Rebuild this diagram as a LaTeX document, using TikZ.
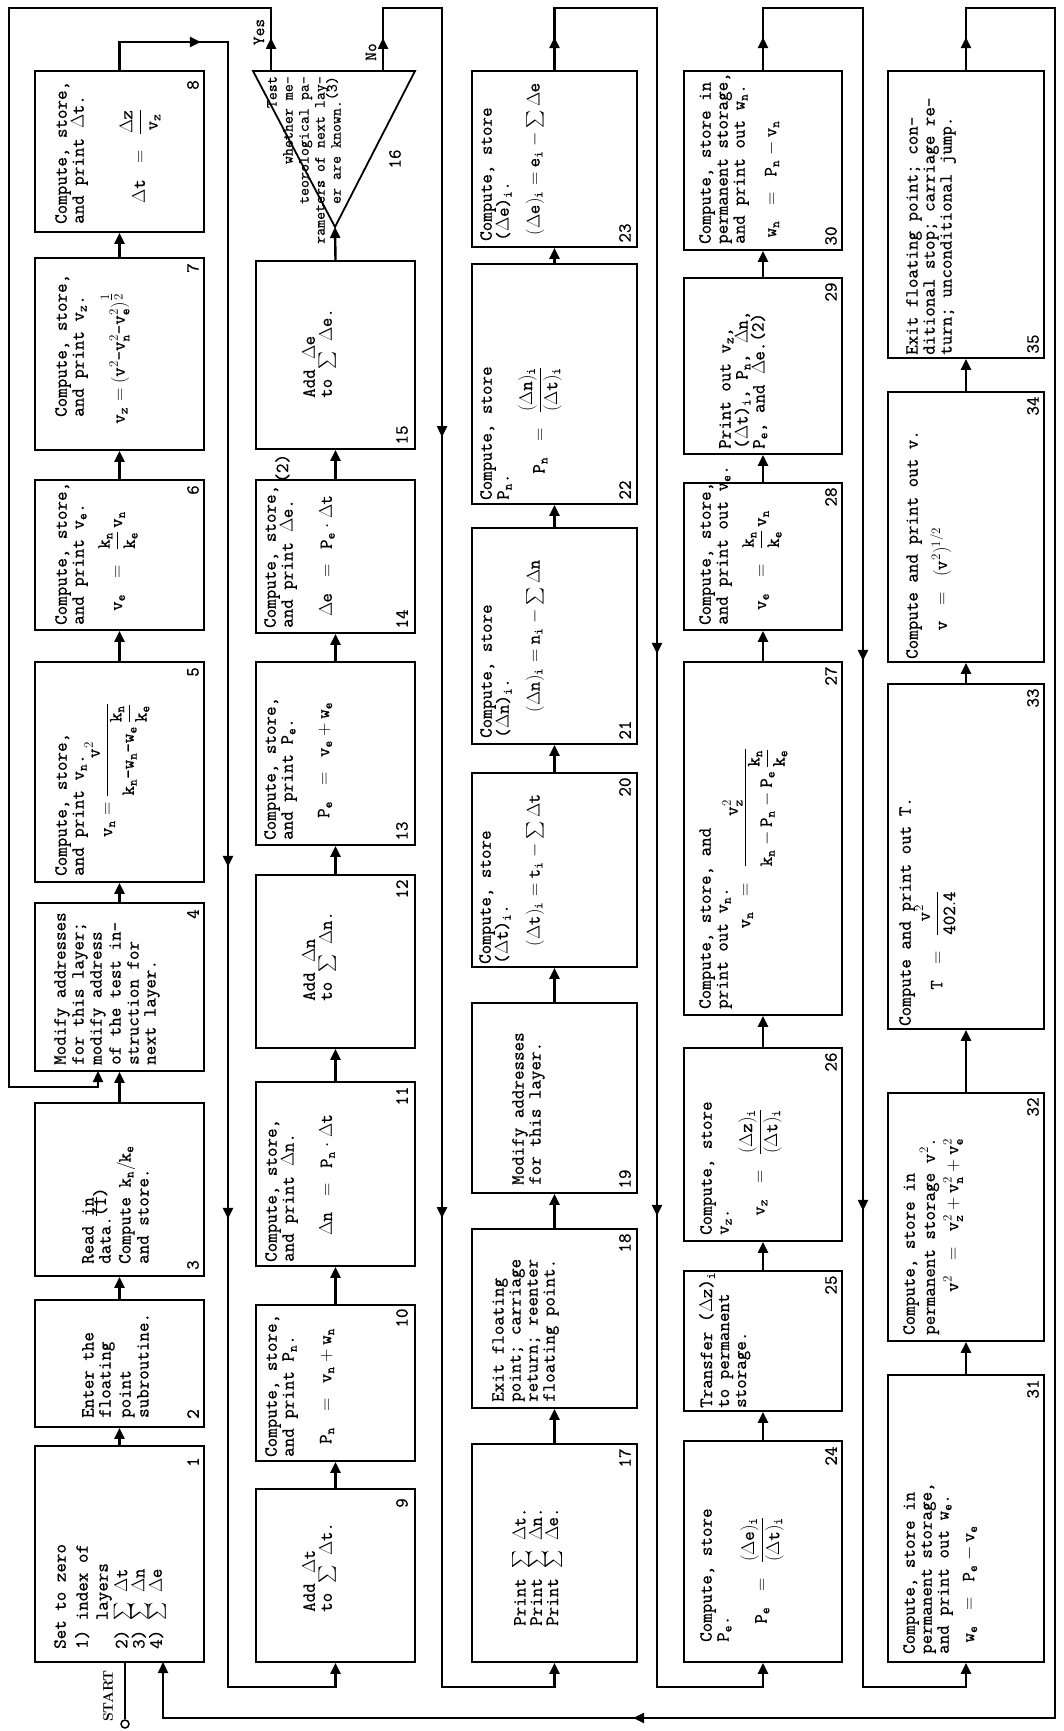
\RequirePackage{fix-cm}
\documentclass[tikz,border=0pt]{standalone}
\usepackage{amsmath}
\usepackage{fontspec}
\setmonofont{Latin Modern Mono}[FakeBold=0.8]
\usetikzlibrary{arrows.meta,decorations.markings}
\newcommand\qfont{\fontsize{18.5}{17}\selectfont\ttfamily}
\newcommand\qsfont{\fontsize{15.5}{16}\selectfont\ttfamily}
\newcommand\qyfont{\fontsize{17}{17}\selectfont\ttfamily}
\newcommand\qvn{\mathtt{v}_{\mathtt{n}}}
\newcommand\qve{\mathtt{v}_{\mathtt{e}}}
\newcommand\qvz{\mathtt{v}_{\mathtt{z}}}
\newcommand\qwn{\mathtt{w}_{\mathtt{n}}}
\newcommand\qwe{\mathtt{w}_{\mathtt{e}}}
\newcommand\qkn{\mathtt{k}_{\mathtt{n}}}
\newcommand\qke{\mathtt{k}_{\mathtt{e}}}
\newcommand\qPn{\mathtt{P}_{\mathtt{n}}}
\newcommand\qPe{\mathtt{P}_{\mathtt{e}}}
\newcommand\qi{_{\mathtt{i}}}
\newcommand\qref[1]{\smash{\raisebox{0.25em}{(#1)}}}
\newcommand\qbox[5]{\node[bx, minimum width={(#4-#2)*1pt}, minimum height={(#5-#3)*1pt}] (#1) at ({(#2+#4)/2},{(#3+#5)/2}) {};}
\begin{document}
\begin{tikzpicture}[x=1pt,y=-1pt,
  bx/.style={draw, line width=1.8pt, inner sep=0pt},
  txt/.style={rotate=90, anchor=north west, inner sep=0pt, align=left, font=\qfont},
  frm/.style={rotate=90, anchor=center, inner sep=0pt, font=\qfont},
  num/.style={rotate=90, anchor=center, inner sep=0pt, font=\qfont},
  con/.style={line width=2.4pt},
  tipA/.tip={Triangle[length=11pt,width=10pt]},
  arr/.style={con, -{tipA}},
  dec/.style={postaction={decorate}}]
\useasboundingbox (0,0) rectangle (1063,1731);
\fill[white] (0,0) rectangle (1063,1731);

% ---------- column 1
\qbox{b1}{35}{1446}{204}{1662}
\qbox{b2}{35}{1300}{204}{1427}
\qbox{b3}{35}{1103}{204}{1276}
\qbox{b4}{35}{903}{204}{1071}
\qbox{b5}{35}{662}{204}{882}
\qbox{b6}{35}{480}{204}{630}
\qbox{b7}{35}{258}{204}{450}
\qbox{b8}{35}{71}{204}{232}
% ---------- column 2
\qbox{b9}{256}{1489}{415}{1662}
\qbox{b10}{256}{1305}{415}{1461}
\qbox{b11}{256}{1082}{415}{1266}
\qbox{b12}{256}{875}{415}{1048}
\qbox{b13}{256}{662}{415}{845}
\qbox{b14}{256}{480}{415}{633}
\qbox{b15}{256}{261}{415}{449}
\coordinate (tA) at (253,71);
\coordinate (tB) at (415,71);
\coordinate (tC) at (335,227);
\draw[bx] (tA) -- (tB) -- (tC) -- cycle;
% ---------- column 3
\qbox{b17}{472}{1444}{637}{1662}
\qbox{b18}{472}{1229}{637}{1408}
\qbox{b19}{472}{1003}{637}{1193}
\qbox{b20}{472}{773}{637}{967}
\qbox{b21}{472}{528}{637}{744}
\qbox{b22}{472}{264}{637}{504}
\qbox{b23}{472}{71}{637}{247}
% ---------- column 4
\qbox{b24}{684}{1441}{842}{1662}
\qbox{b25}{684}{1271}{842}{1411}
\qbox{b26}{684}{1048}{842}{1241}
\qbox{b27}{684}{662}{842}{1015}
\qbox{b28}{684}{483}{842}{630}
\qbox{b29}{684}{278}{842}{454}
\qbox{b30}{684}{71}{842}{250}
% ---------- column 5
\qbox{b31}{888}{1375}{1044}{1662}
\qbox{b32}{888}{1093}{1044}{1341}
\qbox{b33}{888}{684}{1044}{1029}
\qbox{b34}{888}{392}{1044}{662}
\qbox{b35}{888}{71}{1044}{358}

% ---------- texts column 1
\node[txt] (x1) at (54,1649) {Set to zero\\[5pt]1) index of\\[3pt]\ \ \ layers\\[1pt]2) $\sum$ $\Delta$t\\[-1pt]3) $\sum$ $\Delta$n\\[-1pt]4) $\sum$ $\Delta$e};
\node[txt] (x2) at (82,1418) {Enter the\\floating\\[3pt]point\\[1pt]subroutine.};
\node[txt] (x3) at (82,1264) {Read \underline{in}\\data.\qref{1}\\[3pt]Compute $\qkn/\qke$\\[1pt]and store.};
\node[txt] (x4) at (54,1065) {Modify addresses\\[1pt]for this layer;\\[1pt]modify address\\[2pt]of the test in-\\[1pt]struction for\\next layer.};
\node[txt] (x5) at (55,876) {Compute, store,\\and print $\qvn$.};
\node[txt] (x6) at (55,625) {Compute, store,\\and print $\qve$.};
\node[txt] (x7) at (55,417) {Compute, store,\\and print $\qvz$.};
\node[txt] (x8) at (55,224) {Compute, store,\\and print $\Delta$t.};
\node[frm] (f5) at (117,770) {$\qvn = \dfrac{\mathtt{v}^2}{\qkn\text{-}\qwn\text{-}\qwe\,\dfrac{\qkn}{\qke}}$};
\node[frm] (f6) at (118,561) {$\qve\;\;=\;\;\dfrac{\qkn}{\qke}\,\qvn$};
\node[frm] (f7) at (115,358) {$\qvz = (\mathtt{v}^2\text{-}\qvn^2\text{-}\qve^2)^{\textstyle\frac{1}{2}}$};
\node[frm] (f8) at (140,156) {$\Delta\mathtt{t}\;\;=\;\;\dfrac{\Delta\mathtt{z}}{\qvz}$};
% ---------- texts column 2
\node[txt] (x9) at (302,1612) {Add $\Delta$t\\to $\sum$ $\Delta$t.};
\node[txt] (x10) at (265,1457) {Compute, store,\\and print $\qPn$.};
\node[txt] (x11) at (265,1262) {Compute, store,\\and print $\Delta$n.};
\node[txt] (x12) at (302,1001) {Add $\Delta$n\\to $\sum$ $\Delta$n.};
\node[txt] (x13) at (264,840) {Compute, store,\\and print $\qPe$.};
\node[txt] (x14) at (264,628) {Compute, store,\\and print $\Delta$e.\hspace{0.9em}\qref{2}};
\node[txt] (x15) at (302,398) {Add $\Delta$e\\to $\sum$ $\Delta$e.};
\node[frm] (f10) at (327,1386) {$\qPn\;\;=\;\;\qvn + \qwn$};
\node[frm] (f11) at (327,1175) {$\Delta\mathtt{n}\;\;=\;\;\qPn\cdot\Delta\mathtt{t}$};
\node[frm] (f13) at (325,760) {$\qPe\;\;=\;\;\qve + \qwe$};
\node[frm] (f14) at (327,556) {$\Delta\mathtt{e}\;\;=\;\;\qPe\cdot\Delta\mathtt{t}$};
\node[rotate=90, anchor=north east, inner sep=0pt, align=right, font=\qsfont] (x16) at (267,76)
  {Test\\whether me-\\teorological pa-\\rameters of next lay-\\er are known.\qref{3}};
\node[rotate=90, inner sep=0pt, font=\qyfont] (lyes) at (259,32) {Yes};
\node[rotate=90, inner sep=0pt, font=\qyfont] (lno) at (371,52) {No};
% ---------- texts column 3
\node[txt] (x17) at (512,1626) {Print $\sum$ $\Delta$t.\\[-2pt]Print $\sum$ $\Delta$n.\\[-2pt]Print $\sum$ $\Delta$e.};
\node[txt] (x18) at (492,1402) {Exit floating\\point; carriage\\return; reenter\\floating point.};
\node[txt] (x19) at (512,1185) {Modify addresses\\for this layer.};
\node[txt] (x20) at (479,964) {Compute, store\\($\Delta$t)$\qi$.};
\node[txt] (x21) at (480,738) {Compute, store\\($\Delta$n)$\qi$.};
\node[txt] (x22) at (480,500) {Compute, store\\$\qPn$.};
\node[txt] (x23) at (480,241) {Compute, store\\($\Delta$e)$\qi$.};
\node[frm] (f20) at (535,870) {$(\Delta\mathtt{t})\qi = \mathtt{t}\qi - \sum\Delta\mathtt{t}$};
\node[frm] (f21) at (535,636) {$(\Delta\mathtt{n})\qi = \mathtt{n}\qi - \sum\Delta\mathtt{n}$};
\node[frm] (f22) at (540,420) {$\qPn\;\;=\;\;\dfrac{(\Delta\mathtt{n})\qi}{(\Delta\mathtt{t})\qi}$};
\node[frm] (f23) at (535,159) {$(\Delta\mathtt{e})\qi = \mathtt{e}\qi - \sum\Delta\mathtt{e}$};
% ---------- texts column 4
\node[txt] (x24) at (700,1642) {Compute, store\\$\qPe$.};
\node[txt] (x25) at (699,1408) {Transfer ($\Delta$z)$\qi$\\to permanent\\storage.};
\node[txt] (x26) at (700,1235) {Compute, store\\$\qvz$.};
\node[txt] (x27) at (699,1009) {Compute, store, and\\print out $\qvn$.};
\node[txt] (x28) at (699,625) {Compute, store,\\and print out $\qve$.};
\node[txt] (x29) at (719,449) {Print out $\qvz$,\\($\Delta$t)$\qi$, $\qPn$, $\Delta$n,\\$\qPe$, and $\Delta$e.\smash{\raisebox{0.05em}{(2)}}};
\node[txt] (x30) at (699,244) {Compute, store in\\permanent storage,\\and print out $\qwn$.};
\node[frm] (f24) at (762,1570) {$\qPe\;\;=\;\;\dfrac{(\Delta\mathtt{e})\qi}{(\Delta\mathtt{t})\qi}$};
\node[frm] (f26) at (760,1162) {$\qvz\;\;=\;\;\dfrac{(\Delta\mathtt{z})\qi}{(\Delta\mathtt{t})\qi}$};
\node[frm] (f27) at (755,838) {$\qvn\;\;=\;\;\dfrac{\qvz^2}{\qkn - \qPn - \qPe\,\dfrac{\qkn}{\qke}}$};
\node[frm] (f28) at (762,560) {$\qve\;\;=\;\;\dfrac{\qkn}{\qke}\,\qvn$};
\node[frm] (f30) at (772,179) {$\qwn\;\;=\;\;\qPn - \qvn$};
% ---------- texts column 5
\node[txt] (x31) at (903,1654) {Compute, store in\\permanent storage,\\and print out $\qwe$.};
\node[txt] (x32) at (903,1335) {Compute, store in\\permanent storage $\mathtt{v}^2$.};
\node[txt] (x33) at (899,1026) {Compute and print out T.};
\node[txt] (x34) at (906,659) {Compute and print out v.};
\node[txt] (x35) at (906,355) {Exit floating point; con-\\ditional stop; carriage re-\\turn; unconditional jump.};
\node[frm] (f31) at (970,1584) {$\qwe\;\;=\;\;\qPe - \qve$};
\node[frm] (f32) at (953,1215) {$\mathtt{v}^2\;\;=\;\;\qvz^2 + \qvn^2 + \qve^2$};
\node[frm] (f33) at (935,940) {$\mathtt{T}\;\;=\;\;\dfrac{\mathtt{v}^2}{\mathtt{402.4}}$};
\node[frm] (f34) at (941,579) {$\mathtt{v}\;\;=\;\;(\mathtt{v}^2)^{1/2}$};

% ---------- numbers
\node[num] (n1) at (193,1462) {1};
\node[num] (n2) at (193,1414) {2};
\node[num] (n3) at (193,1265) {3};
\node[num] (n4) at (193,914) {4};
\node[num] (n5) at (193,672) {5};
\node[num] (n6) at (193,490) {6};
\node[num] (n7) at (193,268) {7};
\node[num] (n8) at (193,85) {8};
\node[num] (n9) at (402,1503) {9};
\node[num] (n10) at (402,1318) {10};
\node[num] (n11) at (402,1096) {11};
\node[num] (n12) at (402,889) {12};
\node[num] (n13) at (402,831) {13};
\node[num] (n14) at (402,619) {14};
\node[num] (n15) at (402,435) {15};
\node[num] (n16) at (395,159) {16};
\node[num] (n17) at (625,1458) {17};
\node[num] (n18) at (625,1243) {18};
\node[num] (n19) at (625,1179) {19};
\node[num] (n20) at (625,787) {20};
\node[num] (n21) at (625,730) {21};
\node[num] (n22) at (625,490) {22};
\node[num] (n23) at (625,233) {23};
\node[num] (n24) at (831,1456) {24};
\node[num] (n25) at (831,1285) {25};
\node[num] (n26) at (831,1062) {26};
\node[num] (n27) at (831,676) {27};
\node[num] (n28) at (831,497) {28};
\node[num] (n29) at (831,292) {29};
\node[num] (n30) at (831,236) {30};
\node[num] (n31) at (1033,1389) {31};
\node[num] (n32) at (1033,1107) {32};
\node[num] (n33) at (1033,698) {33};
\node[num] (n34) at (1033,406) {34};
\node[num] (n35) at (1033,344) {35};

% ---------- straight arrows inside columns
\foreach \a/\b in {b1/b2,b2/b3,b3/b4,b4/b5,b5/b6,b6/b7,b7/b8,
                   b9/b10,b10/b11,b11/b12,b12/b13,b13/b14,b14/b15,
                   b17/b18,b18/b19,b19/b20,b20/b21,b21/b22,b22/b23,
                   b24/b25,b25/b26,b26/b27,b27/b28,b28/b29,b29/b30,
                   b31/b32,b32/b33,b33/b34,b34/b35}
  \draw[arr] (\a.north) -- (\b.south);
\draw[arr] (b15.north) -- (tC);

% ---------- START
\coordinate (b1st) at (125,1662);
\node[circle, draw, line width=1.5pt, minimum size=8pt, inner sep=0pt] (start) at (125,1724) {};
\draw[con] (start.north) -- (b1st);
\node[rotate=90, inner sep=0pt, font=\rmfamily\bfseries\fontsize{14}{14}\selectfont] (lstart) at (108,1696) {START};

% ---------- loops
\coordinate (c8t) at (228,42);
\coordinate (c8b) at (228,1687);
\draw[arr, dec, decoration={markings,
   mark=at position 109.5pt with {\arrow{tipA}},
   mark=at position 961.5pt with {\arrow{tipA}},
   mark=at position 1313.5pt with {\arrow{tipA}}}]
  (b8.north) -- (b8.north |- c8t) -- (c8t) -- (c8b) -- (c8b -| b9.south) -- (b9.south);

\coordinate (tyes) at (271,71);
\coordinate (cyt) at (9,8);
\coordinate (cyb) at (9,1087);
\coordinate (b4in) at (98,1071);
\draw[arr, dec, decoration={markings, mark=at position 33pt with {\arrow{tipA}}}]
  (tyes) -- (tyes |- cyt) -- (cyt) -- (cyb) -- (cyb -| b4in) -- (b4in);

\coordinate (tno) at (383,71);
\coordinate (cnt) at (442,8);
\coordinate (cnb) at (442,1687);
\draw[arr, dec, decoration={markings,
   mark=at position 33pt with {\arrow{tipA}},
   mark=at position 551pt with {\arrow{tipA}},
   mark=at position 1332pt with {\arrow{tipA}}}]
  (tno) -- (tno |- cnt) -- (cnt) -- (cnb) -- (cnb -| b17.south) -- (b17.south);

\coordinate (c3t) at (657,8);
\coordinate (c3b) at (657,1687);
\draw[arr, dec, decoration={markings,
   mark=at position 33pt with {\arrow{tipA}},
   mark=at position 810.5pt with {\arrow{tipA}},
   mark=at position 1372.5pt with {\arrow{tipA}}}]
  (b23.north) -- (b23.north |- c3t) -- (c3t) -- (c3b) -- (c3b -| b24.south) -- (b24.south);

\coordinate (c4t) at (863,8);
\coordinate (c4b) at (863,1687);
\draw[arr, dec, decoration={markings,
   mark=at position 33pt with {\arrow{tipA}},
   mark=at position 815pt with {\arrow{tipA}},
   mark=at position 1365pt with {\arrow{tipA}}}]
  (b30.north) -- (b30.north |- c4t) -- (c4t) -- (c4b) -- (c4b -| b31.south) -- (b31.south);

\coordinate (c5t) at (1055,8);
\coordinate (c5b) at (1055,1718);
\coordinate (b1in) at (163,1662);
\draw[arr, dec, decoration={markings,
   mark=at position 33pt with {\arrow{tipA}},
   mark=at position 2283pt with {\arrow{tipA}}}]
  (b35.north) -- (b35.north |- c5t) -- (c5t) -- (c5b) -- (c5b -| b1in) -- (b1in);
\end{tikzpicture}
\end{document}
